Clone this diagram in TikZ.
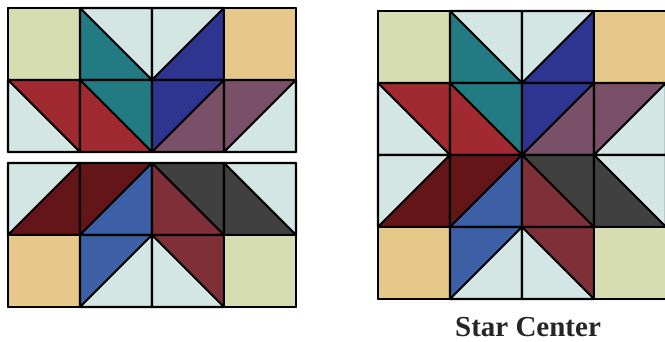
\documentclass[tikz,border=0pt]{standalone}
\usepackage{fontspec}
\setmainfont{Liberation Serif}

\definecolor{qsage}{HTML}{D5DDB1}
\definecolor{qpale}{HTML}{D4E6E4}
\definecolor{qteal}{HTML}{227A82}
\definecolor{qnavy}{HTML}{2E3590}
\definecolor{qtan}{HTML}{E6C98A}
\definecolor{qred}{HTML}{A12A31}
\definecolor{qmauve}{HTML}{7A5068}
\definecolor{qmaroon}{HTML}{641518}
\definecolor{qblue}{HTML}{3D5FA6}
\definecolor{qrust}{HTML}{7F2F38}
\definecolor{qgray}{HTML}{404040}

% column/row/kind/first/second  (kind 0 plain, 1 diagonal \, 2 diagonal /)
\def\starcells{0/0/0/qsage/qsage, 1/0/1/qpale/qteal, 2/0/2/qpale/qnavy, 3/0/0/qtan/qtan,
  0/1/1/qred/qpale, 1/1/1/qteal/qred, 2/1/2/qnavy/qmauve, 3/1/2/qmauve/qpale,
  0/2/2/qpale/qmaroon, 1/2/2/qmaroon/qblue, 2/2/1/qgray/qrust, 3/2/1/qpale/qgray,
  0/3/0/qtan/qtan, 1/3/2/qblue/qpale, 2/3/1/qrust/qpale, 3/3/0/qsage/qsage}

\newcommand\quiltrows[2]{%
  \foreach \c/\r/\k/\p/\q in \starcells {%
    \ifnum\r<#1\relax\else\ifnum\r>#2\relax\else
      \ifcase\k\relax
        \filldraw[patch,fill=\p] (72*\c,72*\r) rectangle ++(72,72);
      \or
        \filldraw[patch,fill=\p] (72*\c,72*\r) -- ++(72,0) -- ++(0,72) -- cycle;
        \filldraw[patch,fill=\q] (72*\c,72*\r) -- ++(0,72) -- ++(72,0) -- cycle;
      \or
        \filldraw[patch,fill=\p] (72*\c,72*\r) -- ++(72,0) -- ++(-72,72) -- cycle;
        \filldraw[patch,fill=\q] (72*\c+72,72*\r) -- ++(0,72) -- ++(-72,0) -- cycle;
      \fi
    \fi\fi
  }
  \draw[rim] (0,72*#1) rectangle (288,72*#2+72);
}

\begin{document}
\begin{tikzpicture}[x=1pt,y=-1pt,line join=round,
  patch/.style={draw=black,line width=2.1pt},
  rim/.style={draw=black,line width=2.7pt}]
  \useasboundingbox (0,0) rectangle (665,342);
  % upper half
  \begin{scope}[shift={(8,8)}]
    \quiltrows{0}{1}
  \end{scope}
  % lower half
  \begin{scope}[shift={(8,19)}]
    \quiltrows{2}{3}
  \end{scope}
  % joined block
  \begin{scope}[shift={(378,11)}]
    \quiltrows{0}{3}
  \end{scope}
  \node[anchor=base,font=\bfseries\fontsize{29}{32}\selectfont,text=black!85] (title) at (528,337) {Star Center};
\end{tikzpicture}
\end{document}
